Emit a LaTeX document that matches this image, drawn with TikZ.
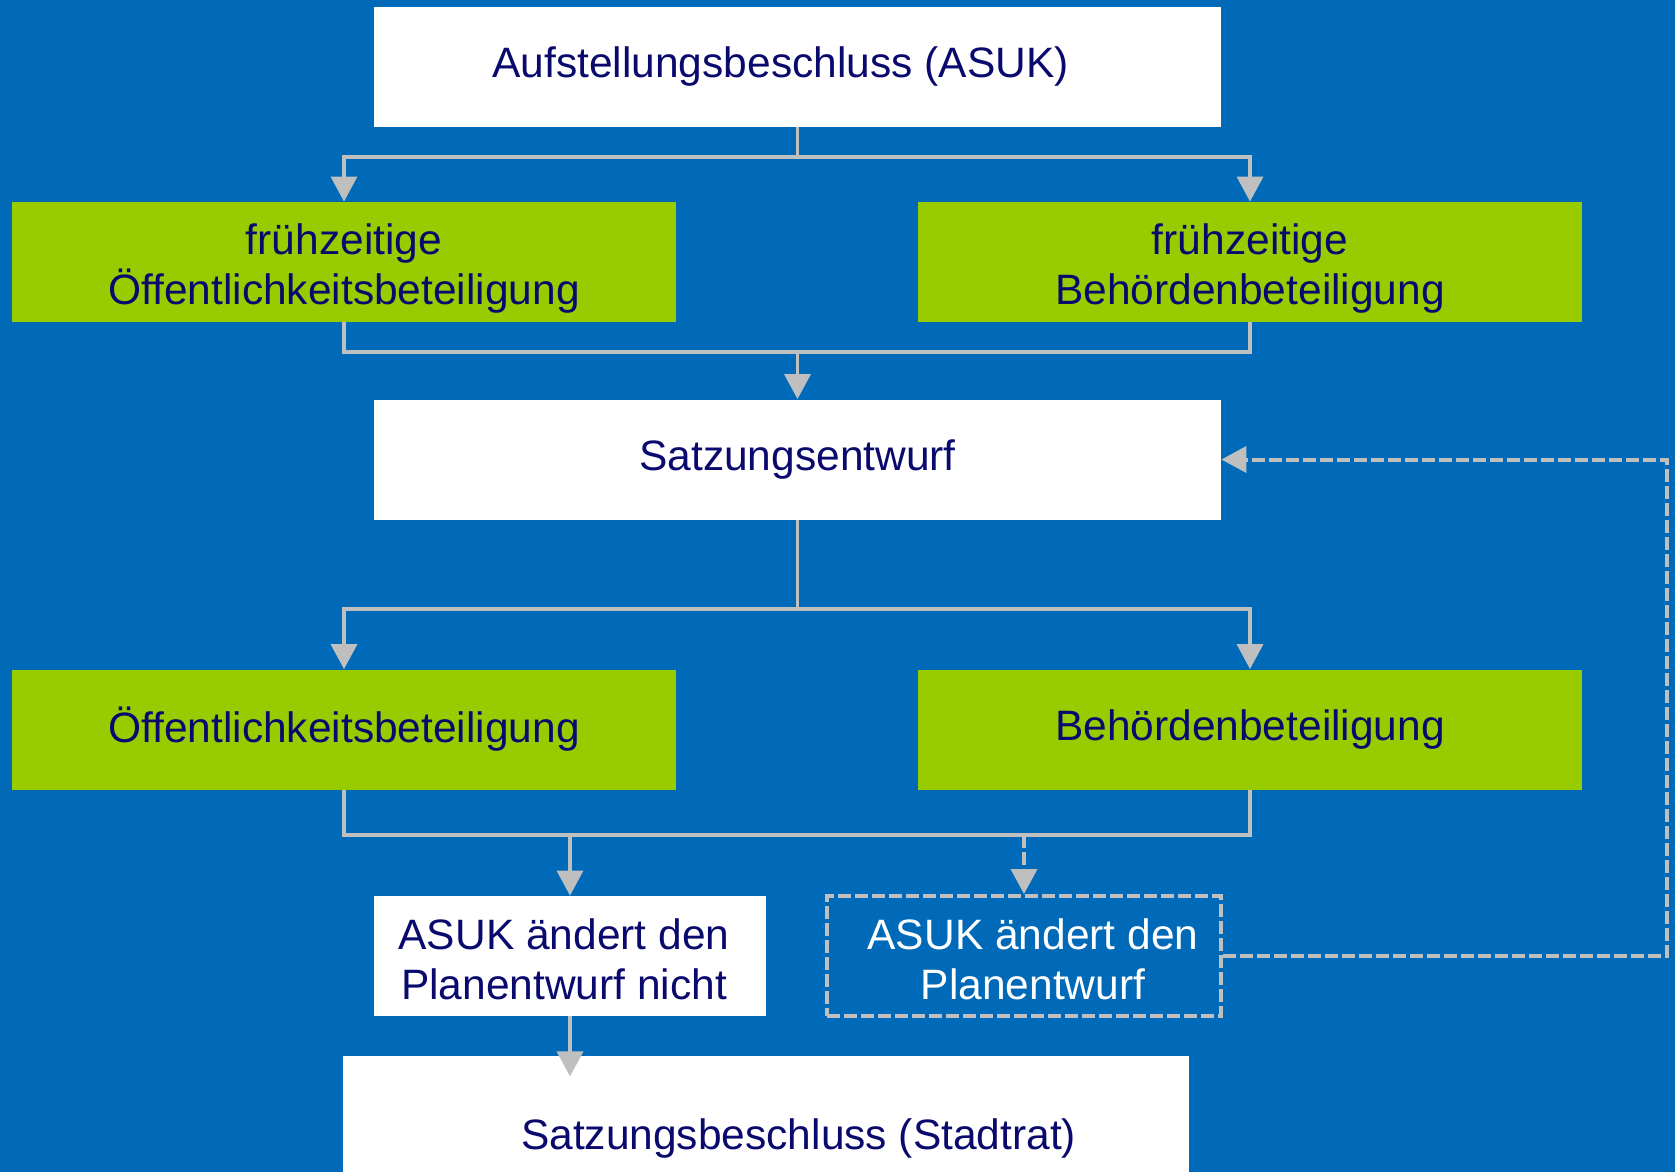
\documentclass[tikz,border=0pt]{standalone}
\usepackage{fontspec}
\setmainfont{Liberation Sans}
\usetikzlibrary{arrows.meta}
\definecolor{bgblue}{RGB}{0,106,184}
\definecolor{stepgreen}{RGB}{153,204,0}
\definecolor{navy}{RGB}{10,10,110}
\definecolor{linegray}{RGB}{191,191,191}

\begin{document}
\begin{tikzpicture}[x=0.5pt,y=-0.5pt,
  every node/.style={inner sep=0pt, align=center, font=\fontsize{21.25}{25}\selectfont},
  every label/.style={text=navy},
  whitebox/.style={fill=white, minimum height=60pt},
  greenbox/.style={fill=stepgreen, minimum width=332pt, minimum height=60pt},
  dashbox/.style={draw=linegray, line width=2pt, dash pattern=on 6.5pt off 2pt, fill=bgblue, minimum width=197pt, minimum height=60pt},
  conn/.style={draw=linegray, line width=1.7pt},
  arr/.style={conn, -{Triangle[length=12.5pt,width=13pt]}},
  dasharr/.style={arr, line width=2pt, dash pattern=on 6.5pt off 2pt}]
\clip (0,0) rectangle (1675,1172);
\fill [bgblue] (0,0) rectangle (1675,1172);
% boxes
\node [whitebox, minimum width=423.5pt, label={[xshift=-8.5pt]center:Aufstellungsbeschluss (ASUK)}] (asuk) at (797.5,67) {};
\node [greenbox, label={[yshift=-3.2pt]center:frühzeitige\\Öffentlichkeitsbeteiligung}] (foel) at (344,262) {};
\node [greenbox, label={[yshift=-3.2pt]center:frühzeitige\\Behördenbeteiligung}] (fbeh) at (1250,262) {};
\node [whitebox, minimum width=423.5pt, label={center:Satzungsentwurf}] (entwurf) at (797.5,459.5) {};
\node [greenbox, label={center:Öffentlichkeitsbeteiligung}] (oel) at (344,729.5) {};
\node [greenbox, label={center:Behördenbeteiligung}] (beh) at (1250,729.5) {};
\node [whitebox, minimum width=196pt, label={[xshift=-3pt,yshift=-1.6pt]center:ASUK ändert den\\Planentwurf nicht}] (nicht) at (570,956) {};
\node [dashbox, label={[text=white,xshift=4.5pt,yshift=-1.6pt]center:ASUK ändert den\\Planentwurf}] (aend) at (1024,956) {};
\node [whitebox, minimum width=423pt, minimum height=78pt, label={[xshift=16.3pt,yshift=-2pt]center:Satzungsbeschluss (Stadtrat)}] (beschluss) at (766,1134) {};
% junctions
\coordinate (j1) at (797.5,157);
\coordinate (j2) at (797.5,352);
\coordinate (j3) at (797.5,609);
\coordinate (j4) at (570,835);
\coordinate (back) at (1667,956);
% connectors
\draw [conn] (asuk.south) -- (j1);
\draw [arr] (j1) -| (foel.north);
\draw [arr] (j1) -| (fbeh.north);
\draw [conn] (foel.south) |- (j2);
\draw [conn] (fbeh.south) |- (j2);
\draw [arr] (j2) -- (entwurf.north);
\draw [conn] (entwurf.south) -- (j3);
\draw [arr] (j3) -| (oel.north);
\draw [arr] (j3) -| (beh.north);
\draw [conn] (oel.south) |- (j4) -| (beh.south);
\draw [arr] (j4) -- (nicht.north);
\draw [dasharr] (j4 -| aend.north) -- (aend.north);
\draw [arr] (nicht.south) -- ++(0,60);
\draw [dasharr] (aend.east) -- (back) |- (entwurf.east);
\end{tikzpicture}
\end{document}
